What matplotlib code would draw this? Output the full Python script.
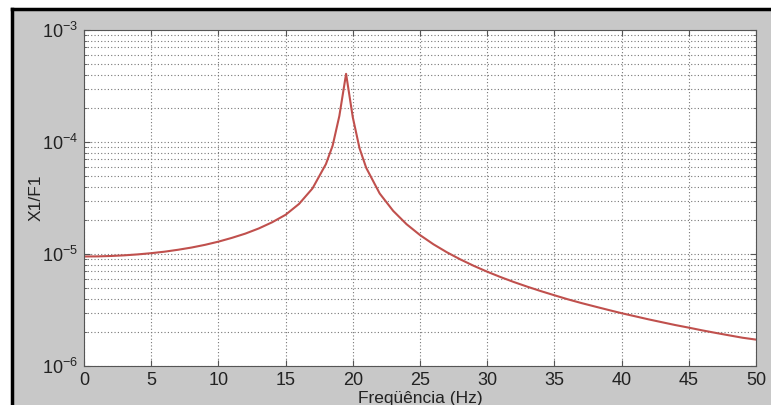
import matplotlib
matplotlib.use("Agg")
import matplotlib.pyplot as plt
from matplotlib.patches import Rectangle
from matplotlib.lines import Line2D
from matplotlib.ticker import LogLocator, FixedLocator

plt.rcParams['font.family'] = ['Liberation Sans', 'DejaVu Sans']
plt.rcParams['mathtext.fontset'] = 'custom'
plt.rcParams['mathtext.rm'] = 'Liberation Sans'
plt.rcParams['mathtext.it'] = 'Liberation Sans'

freq = [0, 1, 2, 3, 4, 5, 6, 7, 8, 9, 10, 11, 12, 13, 14, 15, 16, 17, 18, 18.5,
        19, 19.5, 20, 20.5, 21, 22, 23, 24, 25, 26, 27, 28, 29, 30, 31, 32, 33,
        34, 35, 36, 37, 38, 39, 40, 41, 42, 43, 44, 45, 46, 47, 48, 49, 50]
x1_f1 = [9.50e-6, 9.52e-6, 9.60e-6, 9.73e-6, 9.92e-6, 10.17e-6, 10.49e-6, 10.91e-6,
         11.42e-6, 12.07e-6, 12.89e-6, 13.93e-6, 15.2e-6, 16.9e-6, 19.2e-6, 22.4e-6,
         28.0e-6, 38.5e-6, 63.5e-6, 92.8e-6, 171e-6, 406e-6, 166e-6, 88e-6, 58.7e-6,
         34.7e-6, 24.3e-6, 18.45e-6, 14.76e-6, 12.21e-6, 10.36e-6, 8.95e-6, 7.84e-6,
         6.95e-6, 6.22e-6, 5.61e-6, 5.10e-6, 4.66e-6, 4.28e-6, 3.94e-6, 3.65e-6,
         3.40e-6, 3.17e-6, 2.96e-6, 2.78e-6, 2.61e-6, 2.46e-6, 2.32e-6, 2.20e-6,
         2.08e-6, 1.975e-6, 1.878e-6, 1.788e-6, 1.72e-6]
xticks = [0, 5, 10, 15, 20, 25, 30, 35, 40, 45, 50]

W, H = 771, 405
fig = plt.figure(figsize=(W / 100, H / 100), dpi=100)
fig.patch.set_facecolor('white')
# gray window background and black frame (screenshot look)
fig.add_artist(Rectangle((12 / W, 0), 1 - 12 / W, (H - 9) / H,
                         transform=fig.transFigure, facecolor='#c8c8c8',
                         edgecolor='none', zorder=-10))
fig.add_artist(Line2D([12 / W, 1], [(H - 9) / H, (H - 9) / H],
                      transform=fig.transFigure, color='black', lw=2.5))
fig.add_artist(Line2D([12 / W, 12 / W], [0, (H - 9) / H],
                      transform=fig.transFigure, color='black', lw=2.5))

ax = fig.add_axes([84 / W, (H - 366) / H, (756 - 84) / W, (366 - 30) / H])
ax.set_facecolor('white')
ax.plot(freq, x1_f1, color='#c0504d', lw=1.5)
ax.set_yscale('log')
ax.set_xlim(0, 50)
ax.set_ylim(1e-6, 1e-3)
ax.xaxis.set_major_locator(FixedLocator(xticks))
ax.yaxis.set_major_locator(LogLocator(base=10, numticks=10))
ax.yaxis.set_minor_locator(LogLocator(base=10, subs=range(2, 10), numticks=20))
ax.yaxis.set_minor_formatter(plt.NullFormatter())

ax.grid(True, which='major', axis='both', linestyle=(0, (1, 2)), color='#777777', lw=0.8)
ax.grid(True, which='minor', axis='y', linestyle=(0, (1, 2)), color='#777777', lw=0.8)
ax.tick_params(which='both', direction='in', top=True, right=True, color='#555555')
ax.tick_params(which='major', length=4, labelsize=13, pad=4, labelcolor='#222222')
ax.tick_params(which='minor', length=2)
for s in ax.spines.values():
    s.set_color('#555555')
    s.set_linewidth(0.8)

ax.set_xlabel('Freqüência (Hz)', fontsize=12.5, color='#222222', labelpad=2)
ax.set_ylabel('X1/F1', fontsize=12.5, color='#222222', labelpad=-1)

fig.savefig('out.png', dpi=100)
